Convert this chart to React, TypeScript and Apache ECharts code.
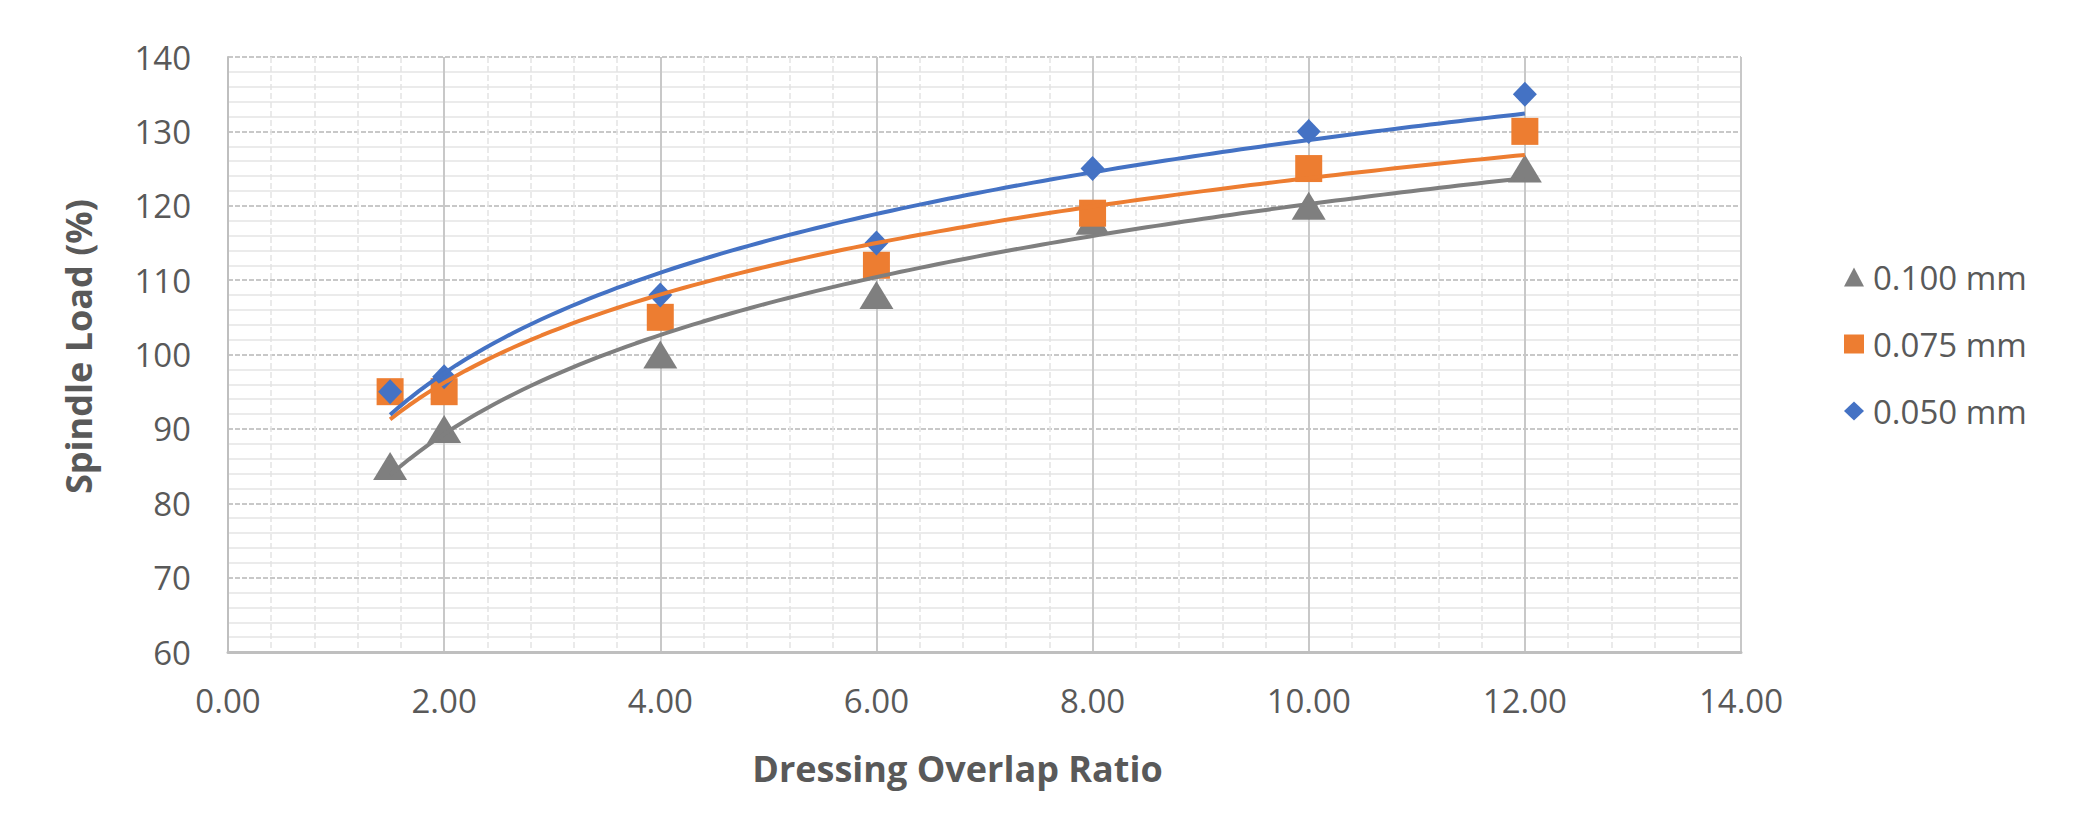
import React, { useEffect, useRef } from "react";
import * as echarts from "echarts";

const xValues = [1.5, 2, 4, 6, 8, 10, 12];
const load0100 = [85, 90, 100, 108, 118, 120, 125];
const load0075 = [95, 95, 105, 112, 119, 125, 130];
const load0050 = [95, 97, 108, 115, 125, 130, 135];
const seriesNames = ["0.100 mm", "0.075 mm", "0.050 mm"];
const colors = ["#7F7F7F", "#ED7D31", "#4472C4"];

function logFit(xs: number[], ys: number[]) {
  const lx = xs.map((v) => Math.log(v));
  const n = xs.length;
  const mx = lx.reduce((a, b) => a + b, 0) / n;
  const my = ys.reduce((a, b) => a + b, 0) / n;
  let sxy = 0, sxx = 0;
  for (let i = 0; i < n; i++) {
    sxy += (lx[i] - mx) * (ys[i] - my);
    sxx += (lx[i] - mx) * (lx[i] - mx);
  }
  const a = sxy / sxx;
  const b = my - a * mx;
  const pts: number[][] = [];
  const x0 = xs[0], x1 = xs[n - 1];
  const steps = 120;
  for (let i = 0; i <= steps; i++) {
    const x = x0 + ((x1 - x0) * i) / steps;
    pts.push([x, a * Math.log(x) + b]);
  }
  return pts;
}

export default function App() {
  const ref = useRef<HTMLDivElement>(null);
  useEffect(() => {
    if (!ref.current) return;
    const chart = echarts.init(ref.current, null, { renderer: "svg" });
    const all = [load0100, load0075, load0050];
    const symbols = ["triangle", "rect", "diamond"];
    const sizes: any[] = [[34, 28], 27, [24, 25]];
    const scatter = all.map((ys, i) => ({
      name: seriesNames[i],
      type: "scatter",
      symbol: symbols[i],
      symbolSize: sizes[i],
      itemStyle: { color: colors[i], opacity: 1 },
      data: xValues.map((x, j) => [x, ys[j]]),
      z: 3,
    }));
    const trends = all.map((ys, i) => ({
      name: seriesNames[i] + " trend",
      type: "line",
      showSymbol: false,
      symbol: "none",
      smooth: false,
      lineStyle: { color: colors[i], width: 4 },
      data: logFit(xValues, ys),
      z: 4,
    }));
    const font = "'Open Sans', 'Noto Sans', sans-serif";
    chart.setOption({
      animation: false,
      backgroundColor: "#ffffff",
      textStyle: { fontFamily: font },
      grid: { left: 220, right: 351, top: 49, bottom: 179 },
      legend: {
        data: seriesNames.map((n, i) => ({ name: n, icon: symbols[i] })),
        orient: "vertical",
        left: 1831,
        top: 247,
        itemWidth: 20,
        itemHeight: 19,
        itemGap: 33,
        textStyle: {
          fontSize: 33,
          color: "#595959",
          fontFamily: font,
          lineHeight: 34,
          padding: [0, 0, 0, 4],
        },
      },
      xAxis: {
        type: "value",
        min: 0,
        max: 14,
        interval: 2,
        name: "Dressing Overlap Ratio",
        nameLocation: "middle",
        nameGap: 98,
        nameTextStyle: {
          fontSize: 36,
          fontWeight: "bold",
          color: "#595959",
          fontFamily: font,
          padding: [0, 54, 0, 0],
        },
        axisLine: { show: true, onZero: false, lineStyle: { color: "#BFBFBF", width: 3 } },
        axisTick: { show: false },
        axisLabel: {
          fontSize: 33,
          color: "#595959",
          margin: 32,
          formatter: (v: number) => v.toFixed(2),
        },
        splitLine: { show: true, lineStyle: { color: "#C8C8C8", width: 2 } },
        minorTick: { show: false, splitNumber: 5 },
        minorSplitLine: { show: true, lineStyle: { color: "#E4E4E4", width: 1.5, type: "dashed" } },
      },
      yAxis: {
        type: "value",
        min: 60,
        max: 140,
        interval: 10,
        name: "Spindle Load (%)",
        nameLocation: "middle",
        nameGap: 132,
        nameTextStyle: {
          fontSize: 36,
          fontWeight: "bold",
          color: "#595959",
          fontFamily: font,
          padding: [0, 0, 0, 16],
        },
        axisLine: { show: true, lineStyle: { color: "#BFBFBF", width: 2 } },
        axisTick: { show: false },
        axisLabel: { fontSize: 33, color: "#595959", margin: 37 },
        splitLine: { show: true, lineStyle: { color: "#C8C8C8", width: 2, type: [5, 2] } },
        minorTick: { show: false, splitNumber: 5 },
        minorSplitLine: { show: true, lineStyle: { color: "#EBEBEB", width: 2 } },
      },
      series: [...scatter, ...trends],
    });
    return () => chart.dispose();
  }, []);
  return <div ref={ref} style={{ width: 2084, height: 823 }} />;
}
